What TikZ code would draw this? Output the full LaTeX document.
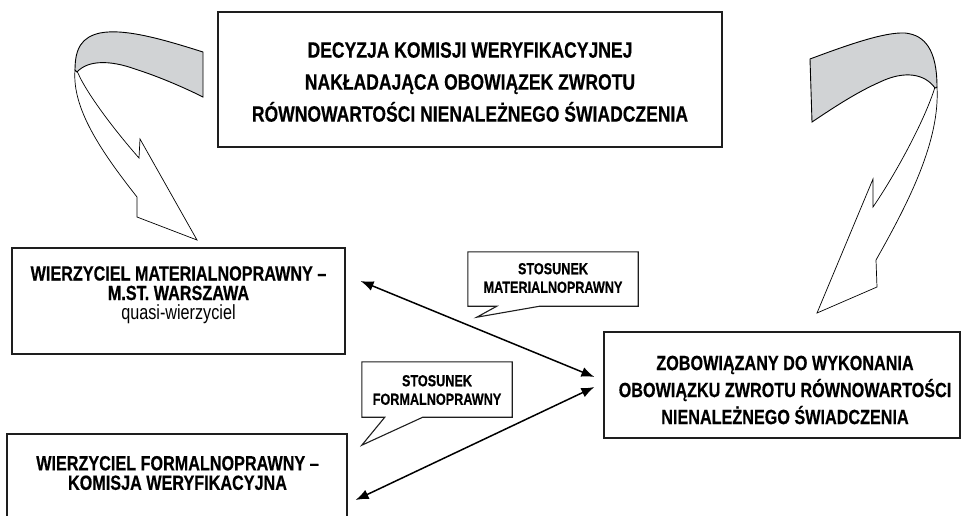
\documentclass[tikz,border=0pt]{standalone}
\usepackage{fontspec}
\setmainfont{Liberation Sans}[FakeStretch=0.79,BoldFeatures={FakeBold=0.4}]
\usetikzlibrary{arrows.meta,calc}
\definecolor{ribbon}{RGB}{209,211,213}
\definecolor{edge}{RGB}{30,30,30}
\begin{document}
\begin{tikzpicture}[x=1pt,y=-1pt,
  box/.style={draw=edge,line width=1.2pt,fill=white,inner sep=0pt},
  txt/.style={align=center,inner sep=0pt,font=\bfseries\fontsize{20.5}{19.5}\selectfont},
  bigtxt/.style={align=center,inner sep=0pt,font=\bfseries\fontsize{22.2}{32}\selectfont},
  calltxt/.style={align=center,inner sep=0pt,font=\bfseries\fontsize{16}{18.5}\selectfont},
  callout/.style={draw=edge,line width=1.1pt,fill=white,line join=miter},
  conn/.style={{Latex[length=13pt,width=10pt]}-{Latex[length=13pt,width=10pt]},line width=1.5pt,draw=black},
  band/.style={fill=ribbon,draw=black,line width=0.9pt},
  body/.style={fill=white,draw=black,line width=0.7pt,line join=miter}]
\useasboundingbox[fill=white] (0,0) rectangle (962,515);

% left curved arrow
\path[body] (75,70) .. controls (72,108) and (100,150) .. (137,197)
  -- (137,217) -- (197,240) -- (140,139) -- (139,158)
  .. controls (110,125) and (85,90) .. (78,73) -- cycle;
\path[band] (203,52) .. controls (165,40) and (125,28) .. (100,33)
  .. controls (82,37) and (75,48) .. (75,70)
  -- (77,72) .. controls (88,60) and (110,60) .. (135,69)
  .. controls (160,77) and (185,88) .. (203,97) -- cycle;

% right curved arrow
\path[body] (937,87) .. controls (940,140) and (910,200) .. (876,260)
  -- (877,287) -- (817,313) -- (873,179) -- (873,207)
  .. controls (895,175) and (925,120) .. (935,87) -- cycle;
\path[band] (810,59) .. controls (850,44) and (885,32) .. (905,33)
  .. controls (925,35) and (937,50) .. (937,87)
  -- (935,88) .. controls (925,74) and (905,70) .. (880,82)
  .. controls (855,93) and (830,110) .. (812,122) -- cycle;

% boxes
\node[box,minimum width=504pt,minimum height=135pt] (dec) at (470,79.5) {};
\node[bigtxt] (dect) at (470,82) {DECYZJA KOMISJI WERYFIKACYJNEJ\\NAKŁADAJĄCA OBOWIĄZEK ZWROTU\\RÓWNOWARTOŚCI NIENALEŻNEGO ŚWIADCZENIA};

\node[box,minimum width=333pt,minimum height=106pt] (mat) at (178.5,301) {};
\node[txt] (matt) at (178.5,295) {WIERZYCIEL MATERIALNOPRAWNY --\\M.ST. WARSZAWA\\{\mdseries quasi-wierzyciel}};

\node[box,minimum width=340pt,minimum height=111pt] (form) at (177,489.5) {};
\node[txt] (formt) at (177.5,473) {WIERZYCIEL FORMALNOPRAWNY --\\KOMISJA WERYFIKACYJNA};

\node[box,minimum width=356pt,minimum height=106pt] (zob) at (782,385) {};
\node[txt,font=\bfseries\fontsize{20.5}{27}\selectfont] (zobt) at (785,390) {ZOBOWIĄZANY DO WYKONANIA\\OBOWIĄZKU ZWROTU RÓWNOWARTOŚCI\\NIENALEŻNEGO ŚWIADCZENIA};

% callouts
\node[minimum width=170pt,minimum height=54pt,inner sep=0pt] (c1) at (553,279) {};
\path[callout] (c1.north west) -- (c1.north east) -- (c1.south east)
  -- ($(c1.south west)+(72,0)$) -- ($(c1.south west)+(9,11)$) -- ($(c1.south west)+(29,0)$)
  -- (c1.south west) -- cycle;
\node[calltxt] (c1t) at (553,278) {STOSUNEK\\MATERIALNOPRAWNY};

\node[minimum width=150pt,minimum height=55pt,inner sep=0pt] (c2) at (437,389.5) {};
\path[callout] (c2.north west) -- (c2.north east) -- (c2.south east)
  -- ($(c2.south west)+(61,0)$) -- ($(c2.south west)+(0,28)$) -- ($(c2.south west)+(23,0)$)
  -- (c2.south west) -- cycle;
\node[calltxt] (c2t) at (437,390) {STOSUNEK\\FORMALNOPRAWNY};

% connectors
\draw[conn] ($(mat.east)+(15,-20)$) -- ($(zob.west)+(-9,-8)$);
\draw[conn] ($(form.east)+(8,10.5)$) -- ($(zob.west)+(-9,2)$);
\end{tikzpicture}
\end{document}
